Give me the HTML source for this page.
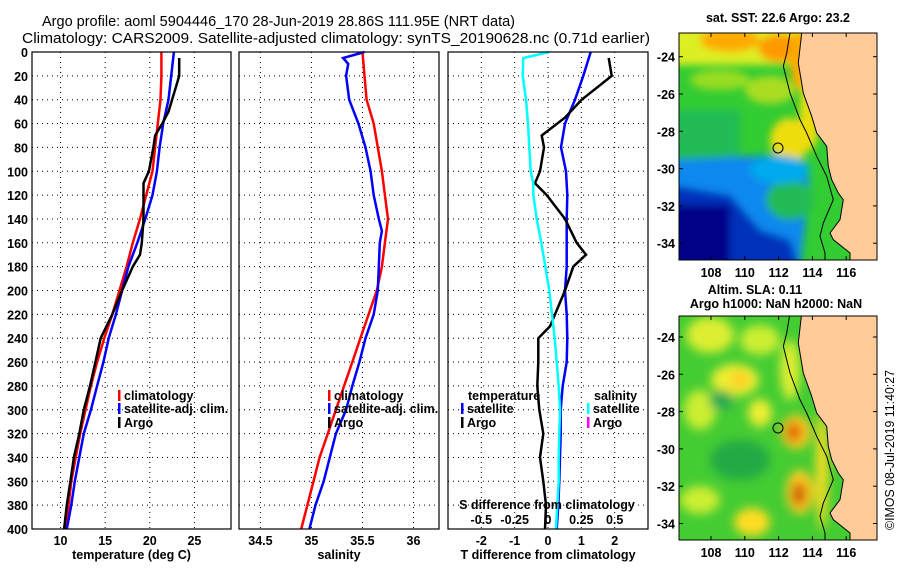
<!DOCTYPE html>
<html><head><meta charset="utf-8"><style>
body{margin:0;background:#fff;}
svg{display:block;font-family:"Liberation Sans",Arial,sans-serif;}
.t{font-weight:bold;font-size:12.5px;}
</style></head><body>
<svg id="fig" width="900" height="580" viewBox="0 0 900 580" xmlns="http://www.w3.org/2000/svg">
<defs>
<filter id="blur1" x="-20%" y="-20%" width="140%" height="140%"><feGaussianBlur stdDeviation="4"/></filter>
<filter id="blur2" x="-20%" y="-20%" width="140%" height="140%"><feGaussianBlur stdDeviation="5"/></filter>
<clipPath id="m1clip"><rect x="679" y="33" width="198" height="227"/></clipPath>
<clipPath id="m2clip"><rect x="679" y="316" width="198" height="224"/></clipPath>
</defs>
<text x="42" y="26" font-size="15" textLength="473" lengthAdjust="spacingAndGlyphs">Argo profile: aoml 5904446_170 28-Jun-2019 28.86S 111.95E (NRT data)</text>
<text x="22" y="43" font-size="15" textLength="628" lengthAdjust="spacingAndGlyphs">Climatology: CARS2009. Satellite-adjusted climatology: synTS_20190628.nc (0.71d earlier)</text>

<!-- Map 1: SST -->
<g>
<text class="t" x="778" y="22" text-anchor="middle">sat. SST: 22.6 Argo: 23.2</text>
<g clip-path="url(#m1clip)">
<rect x="679" y="33" width="198" height="227" fill="#33cc33"/>
<g filter="url(#blur1)">
<rect x="670" y="25" width="160" height="40" fill="#ddee22"/>
<ellipse cx="730" cy="40" rx="30" ry="12" fill="#ffaa00"/>
<ellipse cx="780" cy="48" rx="22" ry="14" fill="#ff9900"/>
<ellipse cx="800" cy="60" rx="10" ry="30" fill="#ffaa00"/>
<ellipse cx="720" cy="80" rx="30" ry="10" fill="#99dd22"/>
<ellipse cx="770" cy="90" rx="25" ry="14" fill="#aadd22"/>
<ellipse cx="790" cy="140" rx="20" ry="22" fill="#eedd11"/>
<ellipse cx="810" cy="110" rx="10" ry="40" fill="#eedd11"/>
<rect x="670" y="110" width="70" height="50" fill="#22bb55"/>
<polygon points="670,160 780,155 810,180 800,270 670,270" fill="#1188ee"/>
<polygon points="670,185 730,195 760,230 790,240 800,270 670,270" fill="#0033bb"/>
<rect x="670" y="205" width="60" height="60" fill="#000088"/>
<ellipse cx="790" cy="200" rx="24" ry="20" fill="#22bb55"/>
<ellipse cx="780" cy="170" rx="30" ry="14" fill="#00aaee"/>
</g>
<polygon id="land1" points="" fill="#ffcc99" stroke="#000" stroke-width="1"/>
<polyline id="bathy1" points="" fill="none" stroke="#000" stroke-width="1"/>
<circle cx="778" cy="148" r="5" fill="none" stroke="#000"/>
</g>
<rect x="679" y="33" width="198" height="227" fill="none" stroke="#000"/>
<g id="m1ticks"></g>
</g>

<!-- Map 2: SLA -->
<g>
<text class="t" x="755" y="294" text-anchor="middle">Altim. SLA: 0.11</text>
<text class="t" x="776" y="308" text-anchor="middle">Argo h1000: NaN h2000: NaN</text>
<g clip-path="url(#m2clip)">
<rect x="679" y="316" width="198" height="224" fill="#44cc33"/>
<g filter="url(#blur2)">
<ellipse cx="710" cy="335" rx="24" ry="18" fill="#ddee33"/>
<ellipse cx="760" cy="340" rx="20" ry="15" fill="#ccee33"/>
<ellipse cx="735" cy="380" rx="24" ry="16" fill="#eeee33"/>
<ellipse cx="740" cy="380" rx="9" ry="8" fill="#ffcc22"/>
<ellipse cx="700" cy="410" rx="16" ry="20" fill="#ccee33"/>
<ellipse cx="760" cy="413" rx="12" ry="14" fill="#eeee33"/>
<ellipse cx="721" cy="400" rx="12" ry="10" fill="#22aa55"/>
<ellipse cx="796" cy="432" rx="15" ry="17" fill="#ffcc22"/>
<ellipse cx="794" cy="432" rx="8" ry="10" fill="#dd6600"/>
<ellipse cx="740" cy="460" rx="30" ry="20" fill="#22aa44"/>
<ellipse cx="800" cy="492" rx="14" ry="22" fill="#ffcc22"/>
<ellipse cx="799" cy="494" rx="7" ry="12" fill="#cc5500"/>
<ellipse cx="752" cy="522" rx="18" ry="14" fill="#ffdd22"/>
<ellipse cx="700" cy="500" rx="20" ry="14" fill="#ccee33"/>
<ellipse cx="790" cy="370" rx="10" ry="30" fill="#ddee33"/>
<ellipse cx="822" cy="470" rx="6" ry="60" fill="#ffdd22"/>
</g>
<polygon id="land2" points="" fill="#ffcc99" stroke="#000" stroke-width="1"/>
<polyline id="bathy2" points="" fill="none" stroke="#000" stroke-width="1"/>
<circle cx="778" cy="428" r="5" fill="none" stroke="#000"/>
</g>
<rect x="679" y="316" width="198" height="224" fill="none" stroke="#000"/>
<g id="m2ticks"></g>
</g>
<text x="0" y="0" font-size="12.5" textLength="160" lengthAdjust="spacingAndGlyphs" transform="translate(894,530) rotate(-90)">©IMOS 08-Jul-2019 11:40:27</text>

<g id="panels"></g>
</svg>
<script>
// ---------- data ----------
const depthTicks=[0,20,40,60,80,100,120,140,160,180,200,220,240,260,280,300,320,340,360,380,400];
const tempTicks=[10,15,20,25];
const salTicks=[34.5,35,35.5,36];
const tdiffTicks=[-2,-1,0,1,2];
const sdiffTickLabels=["-0.5","-0.25","0","0.25","0.5"];
const sdiffTicks=[-0.5,-0.25,0,0.25,0.5];

const stdDepth=[0,20,40,60,80,100,120,140,160,180,200,220,240,260,280,300,320,340,360,380,400];
const tempClim=[21.3,21.3,21.2,20.9,20.6,20.3,19.6,18.9,18.1,17.4,16.6,15.8,14.9,14.1,13.4,12.8,12.2,11.7,11.2,10.9,10.6];
const tempSat=[22.7,22.4,22.1,21.5,21.1,20.8,20.3,19.5,18.6,17.6,16.9,16.2,15.4,14.8,14.1,13.4,12.6,12.1,11.6,11.2,10.7];
const argoDepth=[5,20,30,40,50,60,70,80,100,110,120,140,160,170,180,200,220,240,260,280,300,320,340,360,380,400];
const tempArgo=[23.3,23.3,22.9,22.5,22.1,21.4,20.6,20.4,19.9,19.3,19.3,19.3,19.1,18.9,18.1,16.9,15.8,14.5,13.9,13.3,12.6,12.1,11.5,11.1,10.7,10.4];

const salClim=[35.50,35.52,35.54,35.61,35.65,35.69,35.72,35.75,35.72,35.69,35.64,35.56,35.48,35.40,35.32,35.24,35.16,35.08,35.02,34.96,34.90];
const salSatDepth=[0,5,10,20,40,60,80,100,120,140,150,160,180,200,220,240,260,280,300,320,340,360,380,400];
const salSat=[35.52,35.31,35.36,35.34,35.37,35.46,35.53,35.58,35.61,35.66,35.69,35.67,35.66,35.65,35.61,35.53,35.47,35.40,35.34,35.24,35.18,35.12,35.04,34.98];

const tdiffSat=[1.28,1.06,0.81,0.51,0.39,0.54,0.58,0.56,0.56,0.56,0.51,0.56,0.58,0.56,0.44,0.38,0.38,0.36,0.34,0.31,0.26];
const argoDiffDepth=[5,20,30,40,55,70,80,100,110,120,140,160,170,180,200,220,230,240,260,280,300,320,340,360,380,400];
const tdiffArgo=[1.82,1.91,1.46,1.01,0.51,-0.19,-0.12,-0.24,-0.39,-0.04,0.51,0.86,1.14,0.76,0.51,0.21,0.06,-0.29,-0.29,-0.32,-0.26,-0.14,-0.24,-0.14,-0.06,-0.09];
const sdiffDepth=[0,5,20,40,60,80,100,110,120,140,160,180,200,220,240,260,280,300,320,340,360,380,400];
const sdiffSat=[0.01,-0.185,-0.19,-0.165,-0.15,-0.14,-0.13,-0.11,-0.11,-0.085,-0.05,-0.02,0.01,0.03,0.05,0.065,0.08,0.09,0.085,0.08,0.08,0.07,0.06];

const latTicks=[-24,-26,-28,-30,-32,-34];
const lonTicks=[108,110,112,114,116];

// ---------- helpers ----------
const NS="http://www.w3.org/2000/svg";
function mk(tag,attrs,parent,text){const e=document.createElementNS(NS,tag);for(const k in attrs)e.setAttribute(k,attrs[k]);if(text!==undefined)e.textContent=text;parent.appendChild(e);return e;}
const P=document.getElementById('panels');
const yTop=52,yBot=529;
const yD=d=>yTop+(d/400)*(yBot-yTop);

function panel(name,x0,x1,vmin,vmax,xticks,xlabels,xtitle){
  const sx=v=>x0+(v-vmin)/(vmax-vmin)*(x1-x0);
  const g=mk('g',{},P);
  
  
  xticks.forEach(t=>{mk('line',{x1:sx(t),x2:sx(t),y1:yTop,y2:yBot,stroke:'#000','stroke-width':1,'stroke-dasharray':'1,4'},g);});
  depthTicks.forEach(d=>{mk('line',{x1:x0,x2:x1,y1:yD(d),y2:yD(d),stroke:'#000','stroke-width':1,'stroke-dasharray':'1,4'},g);});
  xticks.forEach((t,i)=>{const tx=mk('text',{x:sx(t),y:545,'text-anchor':'middle',class:'t','font-size':13},g,xlabels[i]);
    
    });
  const tt=mk('text',{x:(x0+x1)/2,y:559,'text-anchor':'middle',class:'t','font-size':13},g,xtitle);
  
  
  return {g,sx,x0,x1};
}
function line(pn,depths,vals,color,name){
  const pts=depths.map((d,i)=>pn.sx(vals[i]).toFixed(1)+','+yD(d).toFixed(1)).join(' ');
  const l=mk('polyline',{points:pts,fill:'none',stroke:color,'stroke-width':2.5},pn.g);
  
  
}
function frame(pn){mk('rect',{x:pn.x0,y:yTop,width:pn.x1-pn.x0,height:yBot-yTop,fill:'none',stroke:'#000','stroke-width':1.2},pn.g);}
function legend(g,x,y,color,label){
  mk('rect',{x:x,y:y-10,width:2.5,height:11,fill:color},g);
  const t=mk('text',{x:x+6,y:y,class:'t'},g,label);
  
  
}

// Panel 1 temperature
const p1=panel('temperature-panel',32,231,6.8,29.1,tempTicks,tempTicks.map(String),'temperature (deg C)');
depthTicks.forEach(d=>{const t=mk('text',{x:28,y:yD(d)+5,'text-anchor':'end',class:'t','font-size':13},p1.g,String(d));
  
  });
line(p1,stdDepth,tempClim,'#ff0000','temp-climatology-line');
line(p1,stdDepth,tempSat,'#0000ff','temp-satellite-line');
line(p1,argoDepth,tempArgo,'#000000','temp-argo-line');
frame(p1);
legend(p1.g,118,400,'#ff0000','climatology');
legend(p1.g,118,413,'#0000ff','satellite-adj. clim.');
legend(p1.g,118,427,'#000000','Argo');

// Panel 2 salinity
const p2=panel('salinity-panel',239,439,34.29,36.25,salTicks,salTicks.map(String),'salinity');
line(p2,stdDepth,salClim,'#ff0000','sal-climatology-line');
line(p2,salSatDepth,salSat,'#0000ff','sal-satellite-line');
frame(p2);
legend(p2.g,328,400,'#ff0000','climatology');
legend(p2.g,328,413,'#0000ff','satellite-adj. clim.');
legend(p2.g,328,427,'#000000','Argo');

// Panel 3 differences
const p3=panel('difference-panel',448,648,-3,3,tdiffTicks,tdiffTicks.map(String),'T difference from climatology');
line(p3,stdDepth,tdiffSat,'#0000ff','tdiff-satellite-line');
line(p3,argoDiffDepth,tdiffArgo,'#000000','tdiff-argo-line');
const sdx={g:p3.g,sx:v=>p3.sx(v*4)};
line(sdx,sdiffDepth,sdiffSat,'#00ffff','sdiff-satellite-line');
frame(p3);
let tl=mk('text',{x:468,y:400,class:'t'},p3.g,'temperature');


legend(p3.g,461,413,'#0000ff','satellite');
legend(p3.g,461,427,'#000000','Argo');
tl=mk('text',{x:594,y:400,class:'t'},p3.g,'salinity');


legend(p3.g,587,413,'#00ffff','satellite');
legend(p3.g,587,427,'#ff00ff','Argo');
tl=mk('text',{x:547,y:509,'text-anchor':'middle',class:'t'},p3.g,'S difference from climatology');


sdiffTicks.forEach((s,i)=>{const t=mk('text',{x:sdx.sx(s),y:524,'text-anchor':'middle',class:'t','font-size':13},p3.g,sdiffTickLabels[i]);
  
  });

// ---------- maps ----------
const coastZ=[[1085,0],[1075,90],[1090,180],[1115,250],[1130,300],[1160,340],[1165,400],[1175,440],[1195,480],[1210,500],[1200,560],[1170,600],[1180,620],[1230,660]];
const bathyZ=[[1050,0],[1040,60],[1030,100],[1050,180],[1080,260],[1100,300],[1130,370],[1160,430],[1180,500],[1150,570],[1140,610],[1155,660]];
function mapGeom(off,landId,bathyId){
  const c=coastZ.map(p=>[440+p[0]/3,40+p[1]/3+off]);
  const pts=[[c[0][0],c[0][1]-20]].concat(c).concat([[c[c.length-1][0],c[c.length-1][1]+20],[900,c[c.length-1][1]+20],[900,c[0][1]-20]]);
  document.getElementById(landId).setAttribute('points',pts.map(p=>p[0].toFixed(1)+','+p[1].toFixed(1)).join(' '));
  const b=bathyZ.map(p=>[440+p[0]/3,40+p[1]/3+off]);
  document.getElementById(bathyId).setAttribute('points',[[b[0][0],b[0][1]-20]].concat(b).concat([[b[b.length-1][0],b[b.length-1][1]+20]]).map(p=>p[0].toFixed(1)+','+p[1].toFixed(1)).join(' '));
}
mapGeom(-7,'land1','bathy1');
mapGeom(273,'land2','bathy2');
function mapTicks(gid,latY0,top,bot){
  const g=document.getElementById(gid);
  const lx=lon=>711+(lon-108)*16.9;
  const ly=lat=>latY0+(-24-lat)*18.65;
  latTicks.forEach(lat=>{const y=ly(lat);
    mk('line',{x1:679,x2:683,y1:y,y2:y,stroke:'#000'},g);
    mk('line',{x1:873,x2:877,y1:y,y2:y,stroke:'#000'},g);
    const t=mk('text',{x:675,y:y+5,'text-anchor':'end',class:'t','font-size':13},g,String(lat));
    
    });
  lonTicks.forEach(lon=>{const x=lx(lon);
    mk('line',{x1:x,x2:x,y1:top,y2:top+4,stroke:'#000'},g);
    mk('line',{x1:x,x2:x,y1:bot-4,y2:bot,stroke:'#000'},g);
    const t=mk('text',{x:x,y:bot+17,'text-anchor':'middle',class:'t','font-size':13},g,String(lon));
    
    });
}
mapTicks('m1ticks',56.7,33,260);
mapTicks('m2ticks',337,316,540);
</script>
</body></html>
